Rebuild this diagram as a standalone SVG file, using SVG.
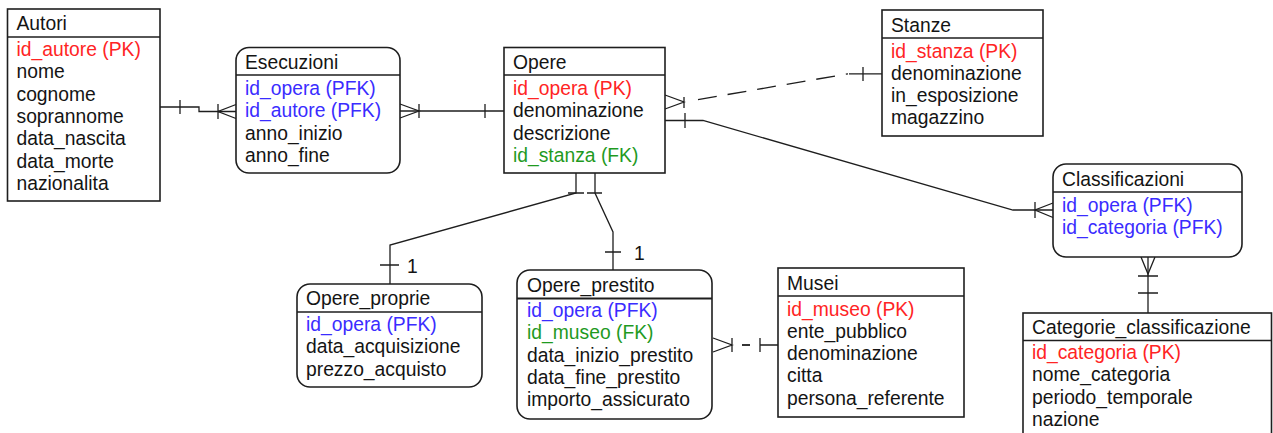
<svg xmlns="http://www.w3.org/2000/svg" width="1273" height="433" viewBox="0 0 1273 433">
<style>
  text { font-family: "Liberation Sans", Arial, sans-serif; font-size: 19.3px; fill: #141414; }
  .pk { fill: #ff2424; }
  .pfk { fill: #3a2cff; }
  .fk { fill: #1f9a1f; }
  .box { fill: #ffffff; stroke: #1e1e1e; stroke-width: 1.6; }
  .div { stroke: #1e1e1e; stroke-width: 1.4; }
  .ln { fill: none; stroke: #1e1e1e; stroke-width: 1.3; }
  .dash { fill: none; stroke: #1e1e1e; stroke-width: 1.3; stroke-dasharray: 19 11; }
</style>
<rect width="1273" height="433" fill="#ffffff"/>

<g id="connectors">
  <!-- Autori - Esecuzioni -->
  <path class="ln" d="M160 107 H199 V111.5 H236"/>
  <path class="ln" d="M180 100 V114"/>
  <path class="ln" d="M218 104 V119 M236 104.5 L218 111.5 L236 118.5"/>
  <!-- Esecuzioni - Opere -->
  <path class="ln" d="M400 111 H504"/>
  <path class="ln" d="M400 104 L419 111 L400 118 M419 104 V118"/>
  <path class="ln" d="M485 104 V118"/>
  <!-- Opere - Stanze -->
  <path class="ln" d="M665 95 L684 102 L665 109 M684 97 V108"/>
  <path class="dash" d="M698 99.6 L848 73.8"/>
  <path class="ln" d="M849 73.8 H882 M863 67 V81"/>
  <!-- Opere - Classificazioni -->
  <path class="ln" d="M665 120.5 H703 L1013 210 H1053"/>
  <path class="ln" d="M685 113 V128"/>
  <path class="ln" d="M1035 202 V218 M1053 203 L1035 210 L1053 217.5"/>
  <!-- Classificazioni - Categorie -->
  <path class="ln" d="M1148 257 V313"/>
  <path class="ln" d="M1141 257 L1148 274 L1155 257 M1138 276 H1158 M1138 293 H1158"/>
  <!-- Opere - Opere_proprie -->
  <path class="ln" d="M576 173 V193 L390 245 V284"/>
  <path class="ln" d="M568 193 H584 M380 265 H399"/>
  <!-- Opere - Opere_prestito -->
  <path class="ln" d="M595 173 V193 L613 232 V270"/>
  <path class="ln" d="M587 193 H602 M605 252 H621"/>
  <!-- Opere_prestito - Musei -->
  <path class="ln" d="M713 338 L732 345 L713 352 M732 338 V352"/>
  <path class="ln" d="M742 345 H750" style="stroke-width:1.8"/>
  <path class="ln" d="M760 338 V352 M760 345 H778"/>
  <text x="407" y="273">1</text>
  <text x="634" y="260">1</text>
</g>

<g id="autori">
  <rect class="box" x="7.5" y="9" width="152.5" height="192"/>
  <line class="div" x1="7.5" y1="37" x2="160" y2="37"/>
  <text x="16.5" y="30">Autori</text>
  <text x="16.5" y="56" class="pk">id_autore (PK)</text>
  <text x="16.5" y="78.3">nome</text>
  <text x="16.5" y="100.6">cognome</text>
  <text x="16.5" y="122.9">soprannome</text>
  <text x="16.5" y="145.2">data_nascita</text>
  <text x="16.5" y="167.5">data_morte</text>
  <text x="16.5" y="189.8">nazionalita</text>
</g>

<g id="esecuzioni">
  <rect class="box" x="236" y="47.5" width="164" height="125.5" rx="13"/>
  <line class="div" x1="236" y1="75" x2="400" y2="75"/>
  <text x="245" y="69">Esecuzioni</text>
  <text x="245" y="95" class="pfk">id_opera (PFK)</text>
  <text x="245" y="117.3" class="pfk">id_autore (PFK)</text>
  <text x="245" y="139.6">anno_inizio</text>
  <text x="245" y="161.9">anno_fine</text>
</g>

<g id="opere">
  <rect class="box" x="504" y="47.5" width="161" height="125.5"/>
  <line class="div" x1="504" y1="75" x2="665" y2="75"/>
  <text x="513" y="69">Opere</text>
  <text x="513" y="95" class="pk">id_opera (PK)</text>
  <text x="513" y="117.3">denominazione</text>
  <text x="513" y="139.6">descrizione</text>
  <text x="513" y="161.9" class="fk">id_stanza (FK)</text>
</g>

<g id="stanze">
  <rect class="box" x="882" y="10" width="161" height="126"/>
  <line class="div" x1="882" y1="38" x2="1043" y2="38"/>
  <text x="891" y="31.5">Stanze</text>
  <text x="891" y="57.5" class="pk">id_stanza (PK)</text>
  <text x="891" y="79.8">denominazione</text>
  <text x="891" y="102.1">in_esposizione</text>
  <text x="891" y="124.4">magazzino</text>
</g>

<g id="classificazioni">
  <rect class="box" x="1053" y="164" width="189" height="93" rx="13"/>
  <line class="div" x1="1053" y1="192" x2="1242" y2="192"/>
  <text x="1062" y="185.5">Classificazioni</text>
  <text x="1062" y="211.5" class="pfk">id_opera (PFK)</text>
  <text x="1062" y="233.8" class="pfk">id_categoria (PFK)</text>
</g>

<g id="categorie_classificazione">
  <rect class="box" x="1023" y="313" width="248.5" height="130"/>
  <line class="div" x1="1023" y1="340.5" x2="1271.5" y2="340.5"/>
  <text x="1032" y="333.5">Categorie_classificazione</text>
  <text x="1032" y="359" class="pk">id_categoria (PK)</text>
  <text x="1032" y="381.3">nome_categoria</text>
  <text x="1032" y="403.6">periodo_temporale</text>
  <text x="1032" y="425.9">nazione</text>
</g>

<g id="opere_proprie">
  <rect class="box" x="297" y="284" width="185" height="103" rx="13"/>
  <line class="div" x1="297" y1="312" x2="482" y2="312"/>
  <text x="306" y="305">Opere_proprie</text>
  <text x="306" y="331" class="pfk">id_opera (PFK)</text>
  <text x="306" y="353.3">data_acquisizione</text>
  <text x="306" y="375.6">prezzo_acquisto</text>
</g>

<g id="opere_prestito">
  <rect class="box" x="517" y="270" width="195" height="149" rx="13"/>
  <text x="527" y="291.5">Opere_prestito</text>
  <line class="div" x1="517" y1="298.5" x2="712" y2="298.5" style="stroke-width:2.2"/>
  <text x="527" y="317" class="pfk">id_opera (PFK)</text>
  <text x="527" y="339.3" class="fk">id_museo (FK)</text>
  <text x="527" y="361.6">data_inizio_prestito</text>
  <text x="527" y="383.9">data_fine_prestito</text>
  <text x="527" y="406.2">importo_assicurato</text>
</g>

<g id="musei">
  <rect class="box" x="778" y="268" width="186" height="149"/>
  <line class="div" x1="778" y1="296" x2="964" y2="296"/>
  <text x="787" y="289.5">Musei</text>
  <text x="787" y="315.5" class="pk">id_museo (PK)</text>
  <text x="787" y="337.8">ente_pubblico</text>
  <text x="787" y="360.1">denominazione</text>
  <text x="787" y="382.4">citta</text>
  <text x="787" y="404.7">persona_referente</text>
</g>
</svg>
